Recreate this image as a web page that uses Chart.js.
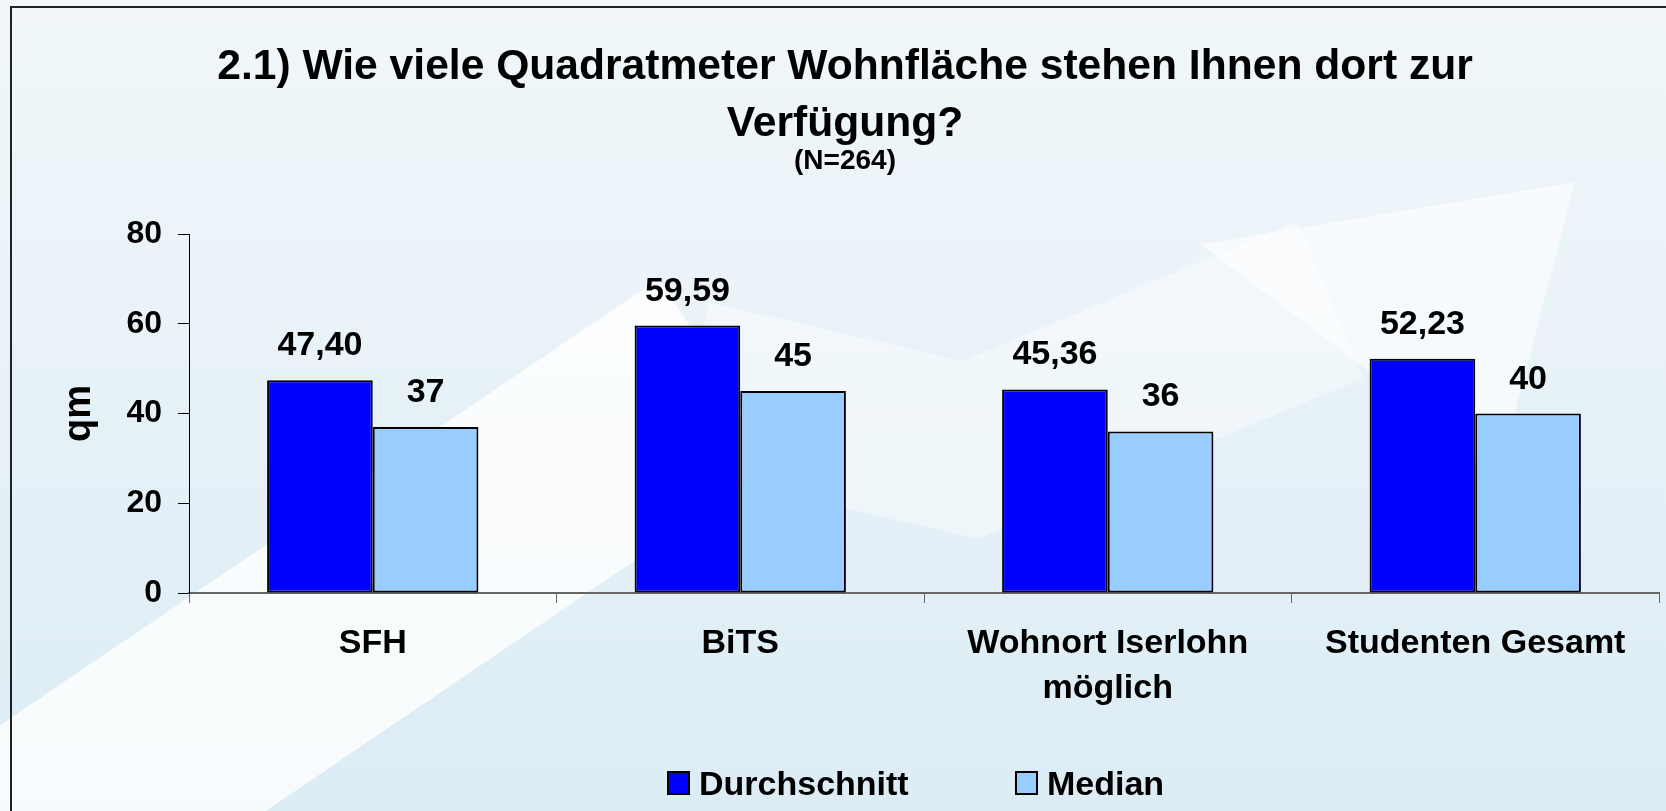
<!DOCTYPE html>
<html>
<head>
<meta charset="utf-8">
<title>Wohnfläche</title>
<script src="https://cdn.jsdelivr.net/npm/chart.js@4.4.1/dist/chart.umd.min.js"></script>
<style>
  html, body { margin: 0; padding: 0; background: #fff; }
  #wrap { width: 1666px; height: 811px; position: relative; }
</style>
</head>
<body>
<div id="wrap"><canvas id="WohnflaecheChart"></canvas></div>
<script>
// values
var categories = ['SFH', 'BiTS', ['Wohnort Iserlohn', 'möglich'], 'Studenten Gesamt'];
var seriesNames = ['Durchschnitt', 'Median'];
var durchschnitt = [47.40, 59.59, 45.36, 52.23];
var median = [37, 45, 36, 40];
var yMin = 0, yMax = 80, yStep = 20;

var fontFamily = "'Liberation Sans', Arial, Helvetica, sans-serif";

// background: light blue + white zigzag arrow + frame
var backdrop = {
    id: 'backdrop',
    beforeDraw: function(chart) {
        var ctx = chart.ctx, w = chart.width, h = chart.height;
        ctx.save();
        var g = ctx.createLinearGradient(0, 0, 0, h);
        g.addColorStop(0, '#f1f7fa');
        g.addColorStop(1, '#dcecf5');
        ctx.fillStyle = g;
        ctx.fillRect(0, 0, w, h);

        ctx.lineJoin = 'miter';
        ctx.lineCap = 'butt';
        // faint middle dip and rising leg
        ctx.lineWidth = 170;
        ctx.strokeStyle = 'rgba(255,255,255,0.4)';
        ctx.beginPath();
        ctx.moveTo(690, 385);
        ctx.lineTo(970, 450);
        ctx.lineTo(1330, 300);
        ctx.stroke();
        // bright lower-left leg
        ctx.lineWidth = 220;
        ctx.strokeStyle = 'rgba(255,255,255,0.8)';
        ctx.beginPath();
        ctx.moveTo(-150, 960);
        ctx.lineTo(720, 370);
        ctx.stroke();
        // arrow head
        ctx.fillStyle = 'rgba(255,255,255,0.6)';
        ctx.beginPath();
        ctx.moveTo(1200, 244);
        ctx.lineTo(1575, 182);
        ctx.lineTo(1500, 470);
        ctx.closePath();
        ctx.fill();

        // frame
        ctx.strokeStyle = '#222';
        ctx.lineWidth = 2;
        ctx.strokeRect(11, 7, w + 20, h + 20);
        ctx.restore();
    }
};

// value labels above the bars
var valueLabels = {
    id: 'valueLabels',
    afterDatasetsDraw: function(chart) {
        var ctx = chart.ctx;
        ctx.save();
        ctx.font = 'bold 34px ' + fontFamily;
        ctx.fillStyle = '#000';
        ctx.textAlign = 'center';
        ctx.textBaseline = 'alphabetic';
        chart.data.datasets.forEach(function(ds, i) {
            chart.getDatasetMeta(i).data.forEach(function(bar, j) {
                var txt = ds.data[j].toFixed(ds.decimals).replace('.', ',');
                ctx.fillText(txt, bar.x, bar.y - 25);
            });
        });
        ctx.restore();
    }
};

// legend under the plot, centred on the plot area like the original
var bottomLegend = {
    id: 'bottomLegend',
    afterDraw: function(chart) {
        var ctx = chart.ctx;
        var xs = [668, 1016];
        ctx.save();
        chart.data.datasets.forEach(function(ds, i) {
            ctx.fillStyle = ds.backgroundColor;
            ctx.fillRect(xs[i], 772, 21, 22);
            ctx.strokeStyle = '#000';
            ctx.lineWidth = 2;
            ctx.strokeRect(xs[i], 772, 21, 22);
            ctx.font = 'bold 34px ' + fontFamily;
            ctx.fillStyle = '#000';
            ctx.textBaseline = 'alphabetic';
            ctx.fillText(ds.label, xs[i] + 31, 795);
        });
        ctx.restore();
    }
};

var ctx = document.getElementById('WohnflaecheChart');

var BarGraph = new Chart(ctx, {
    type: 'bar',
    data: {
        labels: categories,
        datasets: [
            {
                label: seriesNames[0],
                data: durchschnitt,
                decimals: 2,
                backgroundColor: '#0000ff',
                borderColor: '#000',
                borderWidth: 2,
                borderSkipped: false,
                categoryPercentage: 0.575,
                barPercentage: 1
            },
            {
                label: seriesNames[1],
                data: median,
                decimals: 0,
                backgroundColor: '#99ccff',
                borderColor: '#000',
                borderWidth: 2,
                borderSkipped: false,
                categoryPercentage: 0.575,
                barPercentage: 1
            }
        ]
    },
    options: {
        responsive: true,
        maintainAspectRatio: false,
        animation: false,
        layout: { padding: { top: 10, left: 31, right: 7, bottom: 100 } },
        plugins: {
            legend: { display: false },
            tooltip: { enabled: false },
            title: {
                display: true,
                text: ['2.1) Wie viele Quadratmeter Wohnfläche stehen Ihnen dort zur', 'Verfügung?'],
                color: '#000',
                font: { family: fontFamily, size: 42.6, weight: 'bold', lineHeight: 1.35 },
                padding: { top: 28, bottom: 0 }
            },
            subtitle: {
                display: true,
                text: '(N=264)',
                color: '#000',
                font: { family: fontFamily, size: 28, weight: 'bold', lineHeight: 0.6 },
                padding: { top: 0, bottom: 64.2 }
            }
        },
        scales: {
            x: {
                grid: { offset: true, drawOnChartArea: false, drawTicks: true, tickLength: 10, color: '#666' },
                border: { display: true, color: '#666', width: 2 },
                ticks: {
                    color: '#000',
                    padding: 18,
                    maxRotation: 0,
                    font: { family: fontFamily, size: 34, weight: 'bold', lineHeight: 1.32 }
                },
                afterFit: function(scale) { scale.height = 118; }
            },
            y: {
                min: yMin,
                max: yMax,
                grid: { drawOnChartArea: false, drawTicks: true, tickLength: 11, color: '#000' },
                border: { display: true, color: '#000', width: 1 },
                ticks: {
                    stepSize: yStep,
                    color: '#000',
                    padding: 16,
                    font: { family: fontFamily, size: 32, weight: 'bold' }
                },
                title: {
                    display: true,
                    text: 'qm',
                    color: '#000',
                    font: { family: fontFamily, size: 38, weight: 'bold', lineHeight: 1.2 },
                    padding: { top: 26, bottom: 0 }
                },
                afterFit: function(scale) { scale.width = 158; }
            }
        }
    },
    plugins: [backdrop, valueLabels, bottomLegend]
});
</script>
</body>
</html>
